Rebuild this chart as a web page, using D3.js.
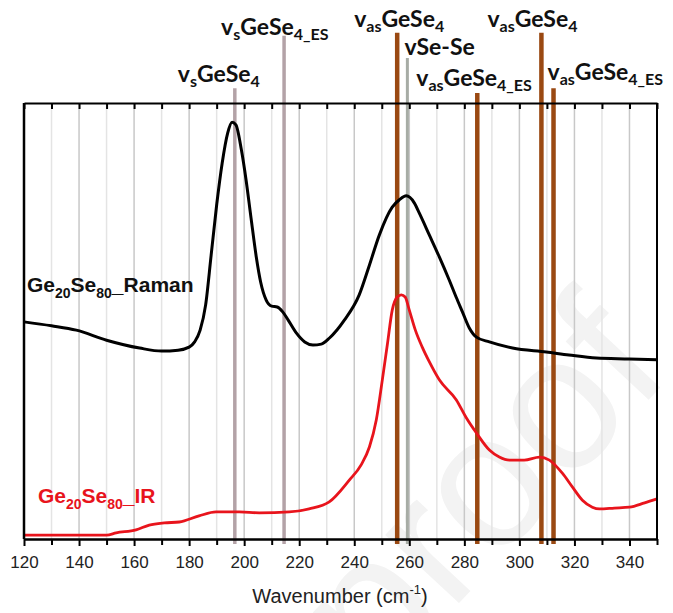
<!DOCTYPE html>
<meta charset="utf-8">
<style>
  body { margin: 0; background: #fff; }
  .axis text { font-family: "Liberation Sans", Arial, sans-serif; font-size: 17px; fill: #222; }
  .axis path, .axis line { stroke: #000; stroke-width: 2px; }
  .band-label { font-family: Lato, "Open Sans", sans-serif; font-weight: bold; fill: #111; }
</style>
<body>
<svg id="chart" width="673" height="613"></svg>
<script src="https://cdn.jsdelivr.net/npm/d3@7"></script>
<script>
// wavenumber (cm-1) and intensity (a.u., 0-100)
var ramanX = [120,130,139,150,162,170,176,180,182,184,186,188,190,192,194,195.6,197,199,200.7,202.5,204.4,206,208,210,212,214,216,219,222,225,228,231,236.4,241.8,245.5,249.1,253.8,256.4,258.9,261.8,263.6,267.3,270.9,274.5,277,279.3,281.8,284.4,289.1,297.5,309.8,318,328,340,350];
var ramanY = [49.8,48.9,47.9,45.6,43.8,43.1,43.3,44.0,45.2,47.9,53.7,65.1,76.6,86.2,93.1,95.6,95.0,89.2,82.3,73.6,64.7,58.9,54.8,53.4,53.2,52.1,50.2,47.2,45.2,44.5,44.7,46.1,50.2,56.0,62.8,69.7,76.1,77.8,78.7,77.1,74.8,69.7,64.7,59.4,55.5,52.1,48.4,46.3,45.2,43.8,42.9,42.2,41.5,41.3,41.1];

var irX = [120,150,153.5,160.7,165.5,171,176.4,183.6,189.8,198.2,205.5,216.4,223.6,230.9,238.2,242.5,245.5,248,250.2,252,253.8,255.6,257.1,258.5,260,262.2,264.7,267.3,270.9,277.1,280.7,284.4,289.1,292.7,296.4,301.8,307.3,310.9,315.6,319.3,322.9,326.5,329.1,334.5,340,345.5,350];
var irY = [0.9,0.9,1.4,2.1,3.2,3.7,3.9,5.3,6.2,6.2,6.0,6.2,6.9,8.5,13.5,17.0,21.1,27.3,36.5,44.5,52.5,55.5,56.0,55.5,52.5,47.9,44.0,40.6,36.5,31.9,27.8,24.3,20.4,18.8,18.1,18.1,18.8,18.1,15.1,11.9,8.9,7.3,6.9,7.1,7.3,8.3,9.2];

// vibration bands
var bandPos   = [196.6, 214.5, 255.6, 259.3, 284.7, 308, 312.4];
var bandKind  = ["s", "s", "as", "se", "as", "as", "as"];
var bandLabel = [
  [["v",0],["s",1],["GeSe",0],["4",1]],
  [["v",0],["s",1],["GeSe",0],["4_ES",1]],
  [["v",0],["as",1],["GeSe",0],["4",1]],
  [["vSe-Se",0]],
  [["v",0],["as",1],["GeSe",0],["4_ES",1]],
  [["v",0],["as",1],["GeSe",0],["4",1]],
  [["v",0],["as",1],["GeSe",0],["4_ES",1]]
];
// line top (a.u.) and label placement (dx from line, baseline y)
var bandTop   = [103.4, 115.4, 116.1, 110.3, 102.3, 116.1, 103.4];
var labelDx   = [-57, -63, -43, -3, -61, -54, -6];
var labelY    = [82, 35, 27, 55, 86, 27, 80];

var xTicks = d3.range(120, 341, 20);
var xMinor = d3.range(130, 351, 20);

var svg = d3.select("#chart");
var pLeft = 24, pRight = 657, pTop = 103, pBottom = 539;

var x = d3.scaleLinear().domain([120, 350]).range([pLeft, pRight]);
var y = d3.scaleLinear().domain([0, 100]).range([pBottom, pTop]);

// watermark
svg.append("text")
  .attr("transform", "translate(378,690) rotate(-47)")
  .style("font-family", "Liberation Sans, Arial, sans-serif")
  .style("font-size", "190px")
  .style("fill", "#f3f3f3")
  .text("proof");

// grid
svg.append("g").selectAll("line")
  .data(d3.range(130, 350, 10))
  .enter().append("line")
  .attr("x1", function(d) { return x(d); })
  .attr("x2", function(d) { return x(d); })
  .attr("y1", pTop).attr("y2", pBottom)
  .attr("stroke", function(d) { return d % 20 == 0 ? "#c8c8c8" : "#e4e4e4"; })
  .attr("stroke-width", 1.5);

// band lines
var bandColor = { s: "#b3a2a7", as: "#9a4912", se: "#a7aca5" };
var bandWidth = { s: 3.5, as: 4.5, se: 3 };
svg.append("g").selectAll("line")
  .data(bandPos)
  .enter().append("line")
  .attr("x1", function(d) { return x(d); })
  .attr("x2", function(d) { return x(d); })
  .attr("y1", function(d, i) { return y(bandTop[i]); })
  .attr("y2", pBottom + 5)
  .attr("stroke", function(d, i) { return bandColor[bandKind[i]]; })
  .attr("stroke-width", function(d, i) { return bandWidth[bandKind[i]]; });

// band labels
bandPos.forEach(function(p, i) {
  var t = svg.append("text")
    .attr("class", "band-label")
    .attr("x", x(p) + labelDx[i])
    .attr("y", labelY[i])
    .style("font-size", "23px");
  bandLabel[i].forEach(function(part, j) {
    var ts = t.append("tspan").text(part[0]);
    if (part[1]) ts.style("font-size", "16px").attr("dy", 5);
    else if (j > 0) ts.attr("dy", -5);
  });
});

// spectra
var line = d3.line()
  .x(function(d) { return x(d[0]); })
  .y(function(d) { return y(d[1]); })
  .curve(d3.curveMonotoneX);

svg.append("path")
  .datum(d3.zip(irX, irY))
  .attr("fill", "none")
  .attr("stroke", "#e8141c")
  .attr("stroke-width", 2.8)
  .attr("d", line);

svg.append("path")
  .datum(d3.zip(ramanX, ramanY))
  .attr("fill", "none")
  .attr("stroke", "#000")
  .attr("stroke-width", 3)
  .attr("d", line);

// series labels
function seriesLabel(xp, yp, name, color) {
  var t = svg.append("text")
    .attr("x", xp).attr("y", yp)
    .style("font-family", "Liberation Sans, Arial, sans-serif")
    .style("font-weight", "bold")
    .style("font-size", "21px")
    .style("fill", color);
  t.append("tspan").text("Ge");
  t.append("tspan").text("20").style("font-size", "14px").attr("dy", 6);
  t.append("tspan").text("Se").attr("dy", -6);
  t.append("tspan").text("80").style("font-size", "14px").attr("dy", 6);
  t.append("tspan").text("_" + name).attr("dy", -6);
}
seriesLabel(27, 292, "Raman", "#111");
seriesLabel(38, 503, "IR", "#e8141c");

// frame and axes
svg.append("line").attr("x1", pLeft).attr("x2", pLeft).attr("y1", pTop).attr("y2", pBottom)
  .attr("stroke", "#000").attr("stroke-width", 2.5);
svg.append("line").attr("x1", pRight).attr("x2", pRight).attr("y1", pTop).attr("y2", pBottom)
  .attr("stroke", "#000").attr("stroke-width", 2);

svg.append("g")
  .attr("class", "axis")
  .attr("transform", "translate(0," + pBottom + ")")
  .call(d3.axisBottom(x).tickValues(xTicks).tickSize(7).tickSizeOuter(0).tickPadding(10));
svg.append("g")
  .attr("class", "axis")
  .attr("transform", "translate(0," + pBottom + ")")
  .call(d3.axisBottom(x).tickValues(xMinor).tickSize(6).tickSizeOuter(0).tickFormat(""));
svg.append("g")
  .attr("class", "axis")
  .attr("transform", "translate(0," + pTop + ")")
  .call(d3.axisTop(x).tickValues(xTicks.concat(xMinor)).tickSize(-6).tickSizeOuter(0).tickFormat(""));

var xl = svg.append("text")
  .attr("x", 340).attr("y", 603)
  .attr("text-anchor", "middle")
  .style("font-family", "Liberation Sans, Arial, sans-serif")
  .style("font-size", "20px")
  .style("fill", "#222");
xl.append("tspan").text("Wavenumber (cm");
xl.append("tspan").text("-1").style("font-size", "13px").attr("dy", -9);
xl.append("tspan").text(")").attr("dy", 9);
</script>
</body>
